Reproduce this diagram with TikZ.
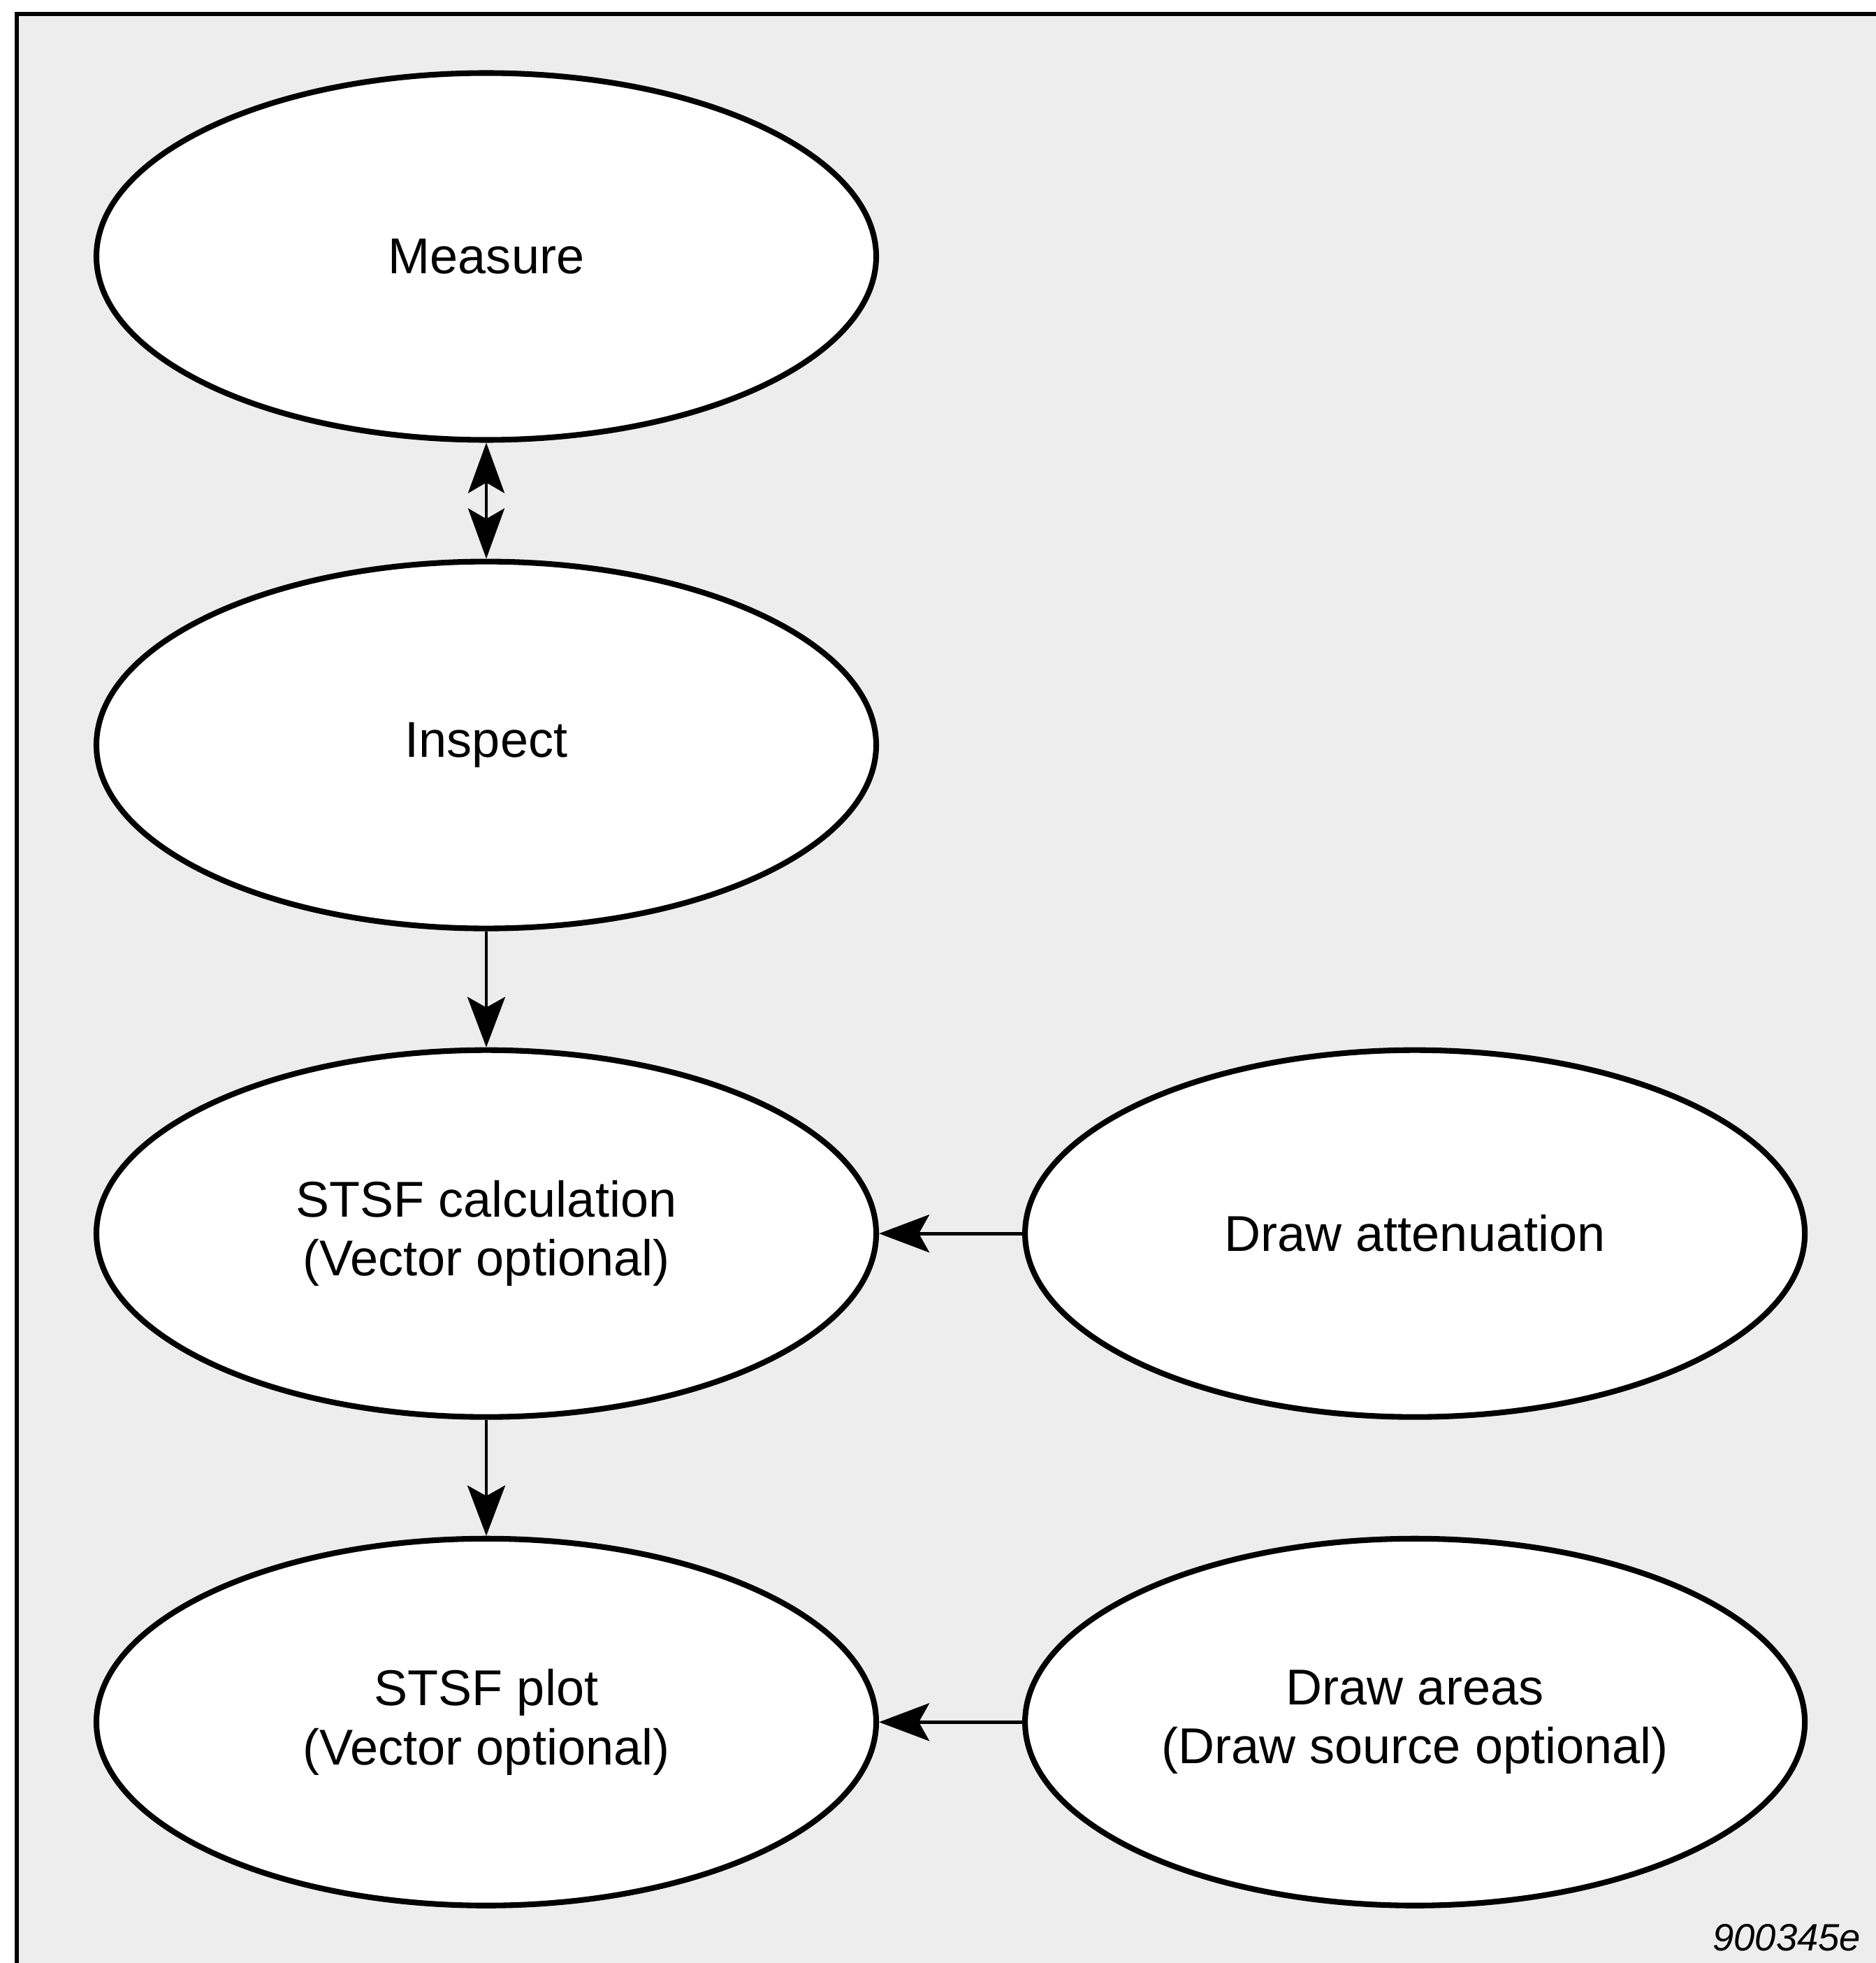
\documentclass[tikz,border=0pt]{standalone}
\usepackage{fontspec}
\setmainfont{Liberation Sans}
\usetikzlibrary{arrows.meta,positioning,shapes.geometric}
\definecolor{Stipple}{gray}{0.93}

\begin{document}
\begin{tikzpicture}[
        node distance=1.66cm and 2.05cm,
        every node/.style={font=\fontsize{20.5}{24}\selectfont},
        stage/.style={ellipse, draw, line width=2.3pt, fill=white, align=center, minimum width=11.16cm, minimum height=5.25cm, inner sep=0pt},
        arrow/.style={-{Stealth[length=7.2mm, width=5.4mm, inset=1.5mm]}, line width=1.4pt},
        both/.style={{Stealth[length=7.2mm, width=5.2mm, inset=1.5mm]}-{Stealth[length=7.2mm, width=5.2mm, inset=1.5mm]}, line width=1.4pt}
    ]
        \useasboundingbox (0,0) rectangle (26.85,-28.09);
        \fill[Stipple] (0.24,-0.2) rectangle (26.85,-28.09);
        \draw[line width=1.7pt] (0.24,-28.09) -- (0.24,-0.2) -- (26.85,-0.2);

        \node[stage] (measure) at (6.96,-3.67) {Measure};
        \node[stage, below=of measure] (inspect) {Inspect};
        \node[stage, below=of inspect] (calc) {STSF calculation\\(Vector optional)};
        \node[stage, below=of calc] (plot) {STSF plot\\(Vector optional)};
        \node[stage, right=of calc] (atten) {Draw attenuation};
        \node[stage, right=of plot] (areas) {Draw areas\\(Draw source optional)};

        \draw[both] (measure) -- (inspect);
        \draw[arrow] (inspect) -- (calc);
        \draw[arrow] (calc) -- (plot);
        \draw[arrow] (atten) -- (calc);
        \draw[arrow] (areas) -- (plot);

        \node[anchor=south east, inner sep=0pt, font=\fontsize{15.5}{18}\selectfont\itshape] (tag) at (26.64,-27.93) {900345e};
    \end{tikzpicture}
\end{document}
